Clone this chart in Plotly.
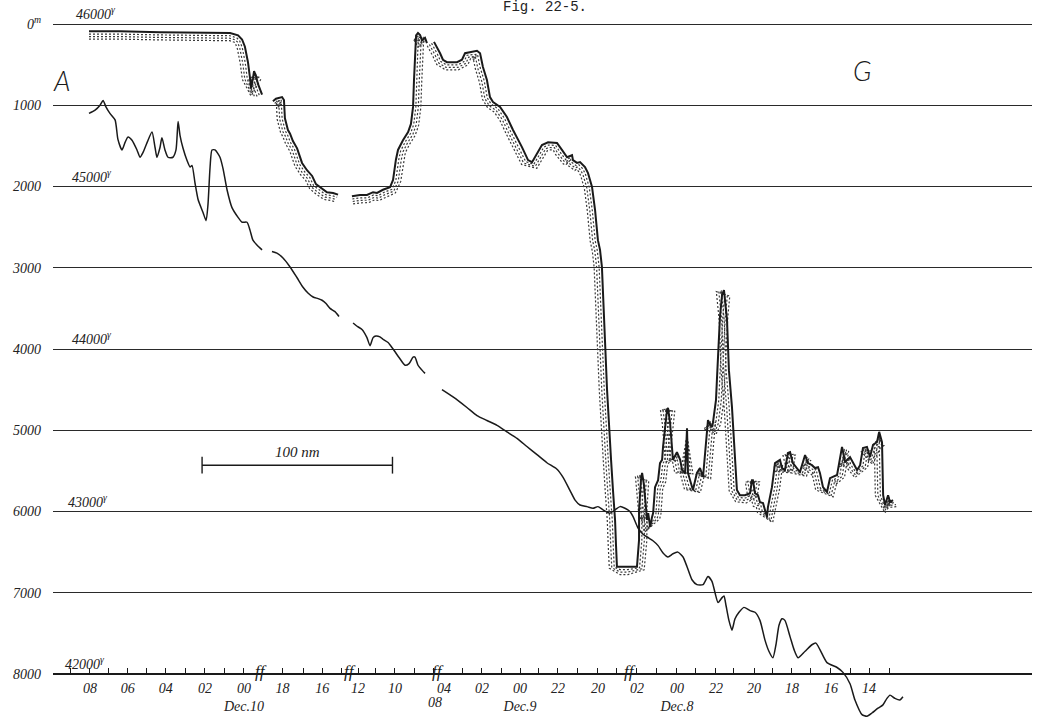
import numpy as np
import plotly.graph_objects as go

# ---------------------------------------------------------------------------
# Track profile: along-track distance in nautical miles (0 = left end of the
# grid), water depth in metres and total magnetic force in gammas.
# None marks a break in the record.
# ---------------------------------------------------------------------------
DEPTH_NM = [
    18.9, 35.2, 56.2, 77.2, 93.0, 97.2, 99.3, 100.8, 102.4, 103.5, 104.0, 105.0,
    105.6, 106.6, 107.7, 109.8, None,
    115.5, 117.1, 120.3, 121.3, 121.8, 123.4, 124.5, 126.0, 128.2, 130.8, 133.4,
    136.1, 138.1, 140.8, 143.9, 147.1, 149.7, None,
    157.0, 161.2, 164.9, 168.1, 170.2, 173.3, 177.0, 178.6, 180.1, 181.2, 183.8,
    186.5, 188.0, 189.1, 189.6, 190.1, 190.7, 191.7, 192.8, 193.8, 195.4, 196.4, None,
    200.1, 201.7, 203.3, 204.8, 206.9, 212.2, 214.8, 216.4, 219.0, 222.7, 224.3,
    225.8, 227.9, 229.5, 231.1, 234.8, 238.4, 241.6, 246.3, 249.5, 251.6, 254.2,
    256.8, 260.0, 264.7, 267.3, 270.0, 272.6, 273.1, 275.2, 276.8, 279.4, 281.0,
    283.1, 284.7, 286.2, 287.3, 288.3, 288.9, 289.9, 291.0, 292.0, 293.1, 294.1,
    295.2, 295.7, 296.2, 297.8, 302.0, 306.7, 307.8, 307.8, 308.8, 309.4, 310.4,
    311.0, 312.0, 312.6, 313.6, 314.6, 315.2, 316.2, 317.8, 318.8, 319.9, 320.4,
    321.5, 322.5, 323.0, 324.1, 325.6, 327.7, 329.4, 330.4, 332.0, 333.0, 333.5,
    335.6, 336.1, 338.2, 339.8, 341.4, 343.0, 344.0, 345.1, 346.1, 346.6, 348.2,
    348.7, 349.3, 350.3, 351.4, 352.4, 354.0, 355.0, 356.6, 358.2, 359.2, 360.8,
    363.4, 366.1, 367.1, 367.6, 368.7, 370.3, 371.3, 372.9, 373.9, 375.0, 375.5,
    377.6, 379.2, 380.2, 381.8, 382.9, 384.4, 386.0, 387.1, 388.6, 390.7, 392.3,
    395.0, 396.5, 398.6, 400.2, 401.8, 402.8, 404.4, 406.5, 408.1, 409.7, 411.8,
    414.4, 416.0, 418.6, 420.2, 422.3, 423.9, 425.4, 427.5, 429.1, 430.7, 432.8,
    433.9, 435.4, 436.0, 437.0, 438.6, 439.6, 441.2,
]
DEPTH_M = [
    90, 90, 100, 110, 110, 140, 190, 280, 470, 670, 790, 670,
    580, 640, 740, 870, None,
    950, 920, 900, 935, 1160, 1305, 1350, 1440, 1530, 1710, 1800,
    1870, 1970, 2020, 2070, 2080, 2100, None,
    2120, 2105, 2105, 2070, 2080, 2040, 2010, 1920, 1670, 1550, 1430,
    1330, 1230, 1020, 690, 380, 140, 110, 135, 200, 170, 235, None,
    220, 285, 360, 440, 470, 470, 440, 360, 345, 330, 360,
    530, 690, 900, 960, 1020, 1145, 1305, 1515, 1675, 1700, 1590,
    1490, 1455, 1465, 1550, 1640, 1615, 1675, 1710, 1700, 1760, 1835,
    2005, 2290, 2660, 2780, 2990, 3400, 3890, 4505, 5000, 5365, 5735,
    6105, 6415, 6680, 6680, 6680, 6680, 6350, 5985, 5615, 5525, 5675,
    5860, 6105, 6020, 6190, 6070, 6020, 5700, 5615, 5405, 5365, 5205,
    4935, 4750, 4725, 4910, 5365, 5270, 5365, 5490, 5525, 4975, 5525,
    5700, 5735, 5525, 5465, 5575, 5120, 4875, 4935, 4960, 4910, 4630,
    4380, 4050, 3605, 3335, 3275, 3645, 4260, 4715, 5280, 5735, 5800,
    5800, 5775, 5615, 5615, 5775, 5800, 5885, 5895, 5985, 6070, 5945,
    5700, 5405, 5390, 5365, 5465, 5490, 5280, 5270, 5405, 5465, 5515,
    5305, 5405, 5430, 5465, 5455, 5525, 5700, 5760, 5590, 5575, 5550,
    5205, 5390, 5330, 5405, 5490, 5430, 5220, 5205, 5330, 5180, 5145,
    5020, 5145, 5800, 5920, 5800, 5885, 5860,
]

MAG_NM = [
    18.9, 22.1, 24.7, 26.3, 27.8, 29.9, 32.6, 34.1, 36.2, 37.8, 39.4, 41.5, 44.1,
    45.7, 47.3, 49.4, 52.0, 53.6, 54.6, 56.2, 57.2, 58.8, 60.4, 63.0, 64.6, 65.7,
    66.7, 68.3, 70.4, 72.0, 73.0, 74.6, 76.2, 78.8, 80.4, 81.4, 82.5, 83.5, 85.1,
    87.7, 89.3, 91.4, 94.0, 97.2, 99.3, 101.9, 103.5, 105.0, 107.1, 109.8, None,
    115.0, 117.6, 120.8, 124.5, 128.1, 131.3, 133.9, 136.6, 139.2, 141.3, 143.4,
    145.5, 148.1, 150.2, None,
    157.6, 159.7, 162.3, 164.9, 166.5, 168.1, 169.6, 171.7, 173.3, 176.0, 178.6,
    182.2, 184.9, 187.0, 189.1, 190.1, 191.7, 193.8, 195.4, None,
    204.3, 210.1, 217.4, 222.7, 227.9, 233.2, 238.4, 243.7, 248.9, 254.2, 259.4,
    264.7, 267.9, 271.5, 274.2, 276.8, 280.5, 283.6, 286.2, 288.9, 292.5, 295.2,
    297.8, 300.4, 303.0, 304.6, 307.2, 309.9, 312.5, 315.1, 317.8, 320.4, 323.0,
    325.6, 328.2, 330.9, 333.0, 335.6, 338.2, 341.4, 344.0, 346.1, 347.7, 349.3,
    351.4, 352.4, 353.5, 355.0, 356.6, 358.2, 360.3, 362.9, 366.1, 368.7, 371.3,
    373.9, 376.0, 378.1, 379.7, 381.3, 382.9, 384.4, 387.1, 389.2, 391.3, 395.0,
    398.6, 400.7, 402.8, 406.5, 411.8, 414.9, 418.6, 421.2, 424.9, 427.5, 430.1,
    433.3, 435.9, 438.0, 439.6, 442.2, 444.8, 446.4,
]
MAG_GAMMA = [
    45450, 45470, 45500, 45530, 45490, 45450, 45410, 45290, 45225, 45270, 45305, 45285, 45225,
    45180, 45210, 45270, 45335, 45240, 45180, 45240, 45300, 45225, 45180, 45180, 45225, 45400,
    45315, 45235, 45160, 45120, 45130, 45020, 44920, 44840, 44790, 44890, 45120, 45225, 45225,
    45180, 45110, 44980, 44870, 44810, 44780, 44780, 44730, 44670, 44640, 44610, None,
    44600, 44590, 44560, 44505, 44440, 44380, 44345, 44320, 44310, 44300, 44280,
    44250, 44230, 44200, None,
    44160, 44140, 44120, 44070, 44020, 44070, 44080, 44075, 44060, 44040, 44000,
    43940, 43900, 43910, 43950, 43950, 43900, 43870, 43850, None,
    43750, 43705, 43640, 43590, 43560, 43530, 43490, 43450, 43400, 43350, 43300,
    43260, 43210, 43130, 43070, 43040, 43030, 43020, 43030, 43010, 42990, 43010,
    43030, 43020, 43000, 42970, 42900, 42860, 42840, 42820, 42790, 42745, 42720,
    42740, 42750, 42720, 42660, 42580, 42550, 42550, 42600, 42570, 42500, 42440,
    42470, 42480, 42420, 42330, 42270, 42340, 42380, 42410, 42390, 42380, 42330,
    42210, 42140, 42100, 42180, 42300, 42340, 42330, 42230, 42150, 42100, 42140,
    42180, 42190, 42150, 42070, 42040, 42010, 41940, 41840, 41750, 41740, 41760,
    41790, 41810, 41850, 41870, 41850, 41840, 41860,
]

DEPTH_TICKS_M = [0, 1000, 2000, 3000, 4000, 5000, 6000, 7000, 8000]
DEPTH_TICK_TEXT = ["0<sup>m</sup>", "1000", "2000", "3000", "4000",
                   "5000", "6000", "7000", "8000"]
MAG_LABEL_GAMMA = [46000, 45000, 44000, 43000, 42000]
MAG_LABEL_NM = [22.6, 20.5, 20.5, 18.4, 16.8]

# hourly ship positions along the track (local time labels)
HOUR_TICKS_NM = [9.3, 19.4, 29.4, 39.2, 49.2, 59.2, 69.7, 79.8, 90.0, 100.3,
                 120.6, 131.5, 141.4, 151.6, 160.2, 169.6, 179.6, 189.6, 200.1,
                 215.3, 225.3, 235.3, 245.3, 255.2, 265.2, 275.7, 286.2, 296.2,
                 306.7, 317.2, 327.7, 337.7, 348.2, 357.6, 368.2, 378.1, 388.1,
                 398.1, 408.6, 418.6, 428.6, 439.1]
HOUR_TICK_TEXT = ["", "08", "", "06", "", "04", "", "02", "", "00<br>Dec.10",
                  "18", "", "16", "", "12", "", "10", "", "",
                  "", "02", "", "00<br>Dec.9", "", "22", "", "20", "",
                  "02", "", "00<br>Dec.8", "", "22", "", "20", "", "18",
                  "", "16", "", "14", ""]
BREAKS_NM = [109.2, 156.0, 202.0, 303.0]
BREAK_TIME_NM = [205.2, 200.8]
BREAK_TIME_TEXT = ["04", "08"]

SCALE_START_NM = 78.3
SCALE_LEN_NM = 100
SCALE_DEPTH_M = 5430

# ---------------------------------------------------------------------------
# Figure geometry
# ---------------------------------------------------------------------------
W, H = 1037, 719
M_L, M_R, M_T, M_B = 53, 5, 0, 0
PLOT_W, PLOT_H = W - M_L - M_R, H - M_T - M_B
X_RANGE = [0.0, PLOT_W / 1.904]          # 1.904 px per nautical mile
Y_RANGE = [8553.8, -295.4]               # depth axis, downward
MAG_AT_SURFACE, MAG_PER_M = 46000, 0.5   # 1000 gamma per 2000 m of depth
Y2_RANGE = [MAG_AT_SURFACE - Y_RANGE[0] * MAG_PER_M,
            MAG_AT_SURFACE - Y_RANGE[1] * MAG_PER_M]
AXIS_POS = (Y_RANGE[0] - 8000) / (Y_RANGE[0] - Y_RANGE[1])

INK = "#1a1a1a"
HAND = dict(family="Liberation Serif", size=14, color="#222", style="italic")
LETTER = dict(family="Lato", size=27, color=INK, style="italic", weight=300)

# labelled hours are major ticks, the rest minor ticks
MAJOR_NM = [v for v, t in zip(HOUR_TICKS_NM, HOUR_TICK_TEXT) if t]
MAJOR_TEXT = [t for t in HOUR_TICK_TEXT if t]
MINOR_NM = [v for v, t in zip(HOUR_TICKS_NM, HOUR_TICK_TEXT) if not t]


def stipple_rows(xs, ds, offsets_px):
    """Offset copies of the sea-floor line, pushed along the normal into the
    sea bed, used to draw the dotted band under the profile."""
    sx = PLOT_W / (X_RANGE[1] - X_RANGE[0])
    sy = PLOT_H / (Y_RANGE[0] - Y_RANGE[1])
    rows = [([], []) for _ in offsets_px]
    segs, cur = [], []
    for x, d in zip(xs, ds):
        if x is None:
            segs.append(cur)
            cur = []
        else:
            cur.append((x, d))
    segs.append(cur)
    for seg in segs:
        if len(seg) < 2:
            continue
        p = np.array([[(x - X_RANGE[0]) * sx, (d - Y_RANGE[1]) * sy] for x, d in seg])
        t = np.gradient(p, axis=0)
        t /= np.linalg.norm(t, axis=1, keepdims=True)
        n = np.column_stack([-t[:, 1], t[:, 0]])
        for k, o in enumerate(offsets_px):
            q = p + o * n
            rows[k][0].extend(list(q[:, 0] / sx + X_RANGE[0]) + [None])
            rows[k][1].extend(list(q[:, 1] / sy + Y_RANGE[1]) + [None])
    return rows


fig = go.Figure()

for rx, ry in stipple_rows(DEPTH_NM, DEPTH_M, [2.8, 5.3, 7.8]):
    fig.add_trace(go.Scatter(x=rx, y=ry, mode="lines", hoverinfo="skip",
                             line=dict(color="#3a3a3a", width=1.2, dash="2px,2px")))

fig.add_trace(go.Scatter(x=DEPTH_NM, y=DEPTH_M, mode="lines", name="depth",
                         line=dict(color=INK, width=2.0)))

fig.add_trace(go.Scatter(x=MAG_NM, y=MAG_GAMMA, yaxis="y2", mode="lines",
                         name="total force",
                         line=dict(color=INK, width=1.5, shape="spline", smoothing=0.6)))

# 100 nm scale bar
fig.add_trace(go.Scatter(x=[SCALE_START_NM, SCALE_START_NM + SCALE_LEN_NM],
                         y=[SCALE_DEPTH_M, SCALE_DEPTH_M], mode="lines+markers",
                         line=dict(color=INK, width=1.4),
                         marker=dict(symbol="line-ns-open", size=12,
                                     line=dict(color=INK, width=1.4))))

ann = []
ann.append(dict(x=SCALE_START_NM + SCALE_LEN_NM / 2, y=SCALE_DEPTH_M, xref="x", yref="y",
                text="100 nm", showarrow=False, yanchor="bottom", yshift=3,
                font=dict(HAND, size=15)))
for g, xn in zip(MAG_LABEL_GAMMA, MAG_LABEL_NM):
    ann.append(dict(x=xn, y=g, xref="x", yref="y2", text=f"{g}<sup>γ</sup>",
                    showarrow=False, yanchor="bottom", yshift=0,
                    font=dict(HAND, size=14)))
for b in BREAKS_NM:
    ann.append(dict(x=b, y=8000, xref="x", yref="y", text="ff", showarrow=False,
                    yanchor="middle", yshift=3,
                    font=dict(family="Liberation Serif", size=17, color=INK,
                              style="italic")))
ann.append(dict(x=BREAK_TIME_NM[0], y=8000, xref="x", yref="y", text=BREAK_TIME_TEXT[0],
                showarrow=False, yanchor="top", yshift=-5, font=HAND))
ann.append(dict(x=BREAK_TIME_NM[1], y=8000, xref="x", yref="y", text=BREAK_TIME_TEXT[1],
                showarrow=False, yanchor="top", yshift=-19, font=HAND))
ann.append(dict(x=4.7, y=690, xref="x", yref="y", text="A", showarrow=False, font=LETTER))
ann.append(dict(x=424.9, y=570, xref="x", yref="y", text="G", showarrow=False, font=LETTER))
ann.append(dict(x=0.503, y=1.0, xref="paper", yref="paper", text="Fig. 22-5.",
                showarrow=False, yanchor="top", yshift=3,
                font=dict(family="Liberation Mono", size=14, color="#222")))

fig.update_layout(
    width=W, height=H, margin=dict(l=M_L, r=M_R, t=M_T, b=M_B),
    paper_bgcolor="white", plot_bgcolor="white", showlegend=False,
    annotations=ann,
    xaxis=dict(range=X_RANGE, anchor="free", position=AXIS_POS, side="bottom",
               showgrid=False, zeroline=False, showline=True, linecolor=INK,
               linewidth=1.5, ticks="inside", ticklen=5, tickwidth=1.3,
               tickcolor=INK, tickmode="array", tickvals=MAJOR_NM,
               ticktext=MAJOR_TEXT, tickfont=HAND, ticklabelstandoff=1,
               minor=dict(tickmode="array", tickvals=MINOR_NM, ticks="inside",
                          ticklen=5, tickwidth=1.3, tickcolor=INK, showgrid=False)),
    yaxis=dict(range=Y_RANGE, tickmode="array", tickvals=DEPTH_TICKS_M,
               ticktext=DEPTH_TICK_TEXT, showgrid=True, gridcolor="#2a2a2a",
               gridwidth=1.4, zeroline=False, showline=False, ticks="",
               ticklabelstandoff=11, tickfont=HAND),
    yaxis2=dict(range=Y2_RANGE, overlaying="y", visible=False),
)

fig.write_html("out.html")
